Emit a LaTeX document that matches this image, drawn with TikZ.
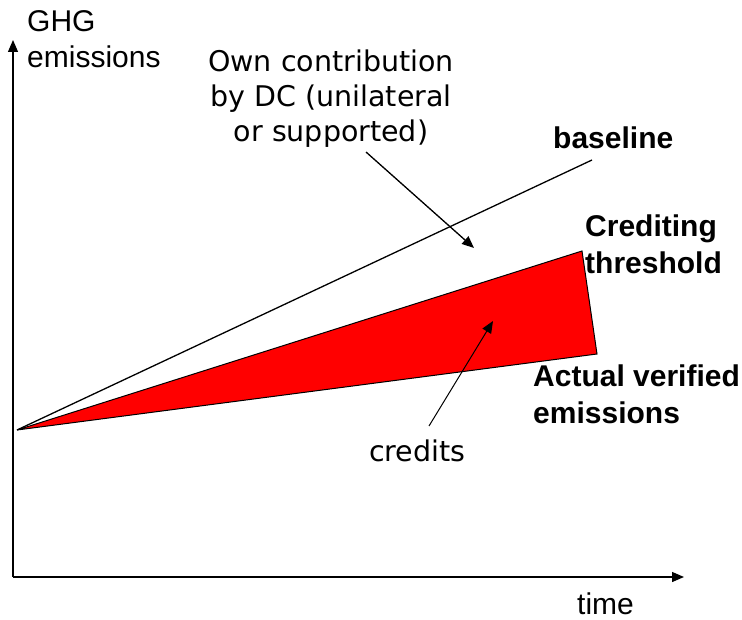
\documentclass[tikz,border=0pt]{standalone}
\usepackage{fontspec}
\usetikzlibrary{arrows.meta}
\newfontfamily\arialfont{Liberation Sans}
\newfontfamily\verdanafont{DejaVu Sans}

\tikzset{
  axislabel/.style={font=\arialfont\fontsize{30}{36}\selectfont, align=left},
  note/.style={font=\verdanafont\fontsize{28.5}{35}\selectfont, align=center},
  curvelabel/.style={font=\arialfont\bfseries\fontsize{30}{37}\selectfont, align=left},
}

\begin{document}
\begin{tikzpicture}[x=1pt,y=-1pt]
  \useasboundingbox (0,0) rectangle (742,620);

  \coordinate (O)       at (13,577);
  \coordinate (ytop)    at (13,40);
  \coordinate (xend)    at (684,577);
  \coordinate (start)   at (17,430);
  \coordinate (base)    at (592,160);
  \coordinate (thresh)  at (582,251);
  \coordinate (actual)  at (597,354);
  \coordinate (owntail) at (366,152);
  \coordinate (ownhead) at (474,248);
  \coordinate (credtail) at (429,426);
  \coordinate (credhead) at (493,321);

  \filldraw[fill=red, draw=black, line width=1pt] (start) -- (thresh) -- (actual) -- cycle;
  \draw[line width=1.3pt] (start) -- (base);

  \begin{scope}[every edge/.style={draw, line width=1.3pt, -{Triangle[length=12pt,width=10pt]}}]
    \path (O) edge (ytop);
    \path (O) edge (xend);
    \path (owntail) edge (ownhead);
    \path (credtail) edge[line width=1pt] (credhead);
  \end{scope}

  \begin{scope}[every node/.style={inner sep=0pt}]
    \node[axislabel, anchor=north west] (ghg)  at (27,10)   {GHG\\emissions};
    \node[axislabel, anchor=base west]  (time) at (577,614) {time};
    \node[note, anchor=north] (contrib) at (331,50) {Own contribution\\by DC (unilateral\\or supported)};
    \node[note, anchor=base west] (credits) at (369,461) {credits};
    \node[curvelabel, anchor=base west]  (baseline)  at (553,149) {baseline};
    \node[curvelabel, anchor=north west] (threshold) at (585,215) {Crediting\\threshold};
    \node[curvelabel, anchor=north west] (verified)  at (533,365) {Actual verified\\emissions};
  \end{scope}

\end{tikzpicture}
\end{document}
